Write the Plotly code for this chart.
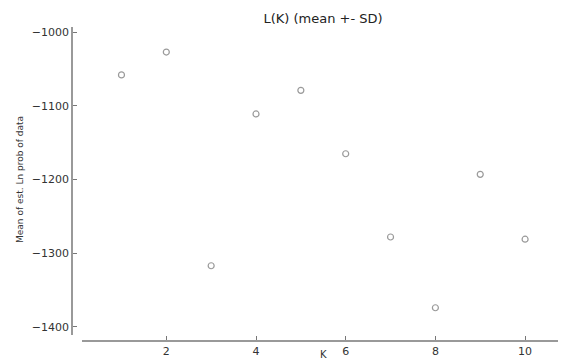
import plotly.graph_objects as go

K = [1, 2, 3, 4, 5, 6, 7, 8, 9, 10]
mean_ln_prob = [-1058, -1027, -1317, -1111, -1079, -1165, -1278, -1374, -1193, -1281]
x_ticks = [2, 4, 6, 8, 10]
y_ticks = [-1000, -1100, -1200, -1300, -1400]

fig = go.Figure()
fig.add_trace(go.Scatter(
    x=K, y=mean_ln_prob, mode="markers",
    marker=dict(symbol="circle-open", size=6, color="#9a9a9a", line=dict(width=1.2, color="#9a9a9a")),
    showlegend=False,
))

# the page body has an 8px margin, so figure px = screen px - 8
OFF = 8
W, H = 566 - OFF, 360 - OFF
L, R, T, B = 72 - OFF, 1, 27 - OFF, H - (341 - OFF)
pw, ph = W - L - R, H - T - B

fig.update_layout(
    width=W, height=H,
    margin=dict(l=L, r=R, t=T, b=B, pad=0, autoexpand=False),
    paper_bgcolor="white", plot_bgcolor="white",
    font=dict(family="DejaVu Sans", color="#333333", size=11),
    title=dict(text="L(K) (mean +- SD)", x=(323 - OFF) / W, xanchor="center",
               y=1 - (18 - OFF) / H, yanchor="middle", font=dict(size=13, color="#222222")),
    xaxis=dict(
        domain=[(82 - 72) / pw, 1], anchor="free", position=0, automargin=False,
        range=[0.12, 10.89], tickvals=x_ticks, ticks="inside", ticklen=4,
        tickcolor="#777777", showline=True, linecolor="#999999", linewidth=1.5,
        showgrid=False, zeroline=False,
        tickfont=dict(size=11, color="#333333"),
    ),
    yaxis=dict(
        domain=[(341 - 335) / ph, 1], anchor="free", position=0, automargin=False,
        range=[-1411, -993], tickvals=y_ticks, ticks="inside", ticklen=4,
        tickcolor="#777777", showline=True, linecolor="#999999", linewidth=1.5,
        showgrid=False, zeroline=False,
        tickfont=dict(size=11, color="#333333"),
    ),
    annotations=[
        dict(text="K", xref="paper", yref="paper", x=(323 - 72) / pw, y=-(354 - 341) / ph,
             xanchor="center", yanchor="middle", showarrow=False, font=dict(size=10, color="#333333")),
        dict(text="Mean of est. Ln prob of data", xref="paper", yref="paper",
             x=-(72 - 20) / pw, y=1 - (180 - 27) / ph, xanchor="center", yanchor="middle",
             textangle=-90, showarrow=False, font=dict(size=9, color="#333333")),
    ],
)

fig.write_html("out.html")
